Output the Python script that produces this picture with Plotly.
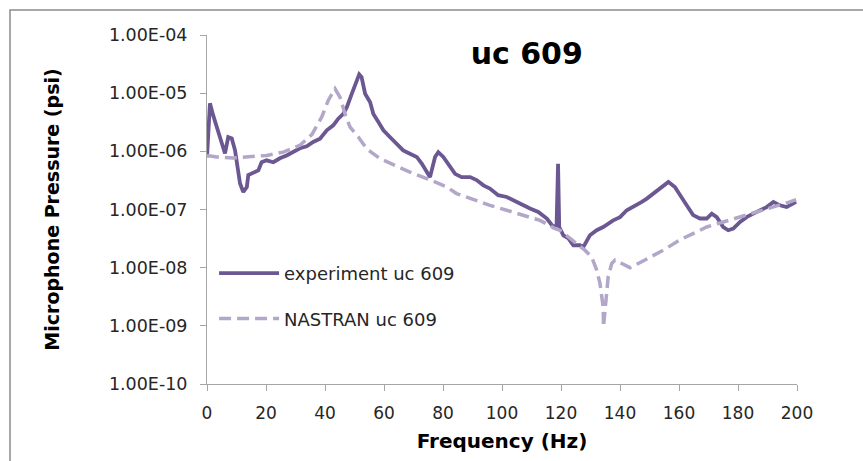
import plotly.graph_objects as go

# Measured microphone response, uc 609
exp_freq = [0.0, 1.0, 2.1, 3.8, 5.5, 6.1, 7.2, 8.4, 9.5, 10.6, 11.2, 12.3, 13.5, 14.0,
            15.7, 17.4, 18.5, 20.2, 22.5, 24.7, 27.0, 29.3, 31.5, 33.8, 36.0, 38.3,
            40.6, 42.8, 44.5, 46.2, 47.4, 49.1, 50.7, 51.6, 52.4, 53.6, 55.3, 56.4,
            58.1, 59.8, 62.0, 64.3, 66.5, 68.8, 71.1, 72.8, 74.5, 75.6, 77.3, 78.4,
            80.1, 81.8, 82.4, 84.1, 86.3, 89.2, 91.4, 93.7, 95.9, 98.7, 101.6, 103.8,
            106.7, 109.5, 112.3, 115.2, 117.4, 118.5, 119.0, 119.4, 120.8, 122.5,
            124.2, 126.4, 127.6, 129.8, 132.1, 134.3, 137.7, 140.0, 142.3, 144.5,
            147.4, 149.1, 151.3, 154.1, 156.4, 158.6, 160.3, 162.6, 164.8, 167.1,
            169.4, 171.1, 172.8, 175.0, 176.7, 178.4, 180.7, 182.9, 185.2, 187.5,
            189.7, 192.0, 194.2, 196.5, 198.7, 199.7]
exp_psi = [7.9e-7, 6.7e-6, 4.15e-6, 2.3e-6, 1.19e-6, 9.2e-7, 1.76e-6, 1.67e-6, 1.04e-6,
           4.7e-7, 2.8e-7, 2.0e-7, 2.44e-7, 3.9e-7, 4.2e-7, 4.7e-7, 6.5e-7, 7.0e-7,
           6.5e-7, 7.6e-7, 8.5e-7, 9.7e-7, 1.13e-6, 1.22e-6, 1.45e-6, 1.65e-6, 2.3e-6,
           2.8e-6, 3.64e-6, 4.4e-6, 5.75e-6, 9.8e-6, 1.66e-5, 2.1e-5, 1.89e-5, 9.8e-6,
           7.0e-6, 4.4e-6, 3.2e-6, 2.3e-6, 1.76e-6, 1.36e-6, 1.04e-6, 9.1e-7, 8.0e-7,
           6.15e-7, 4.4e-7, 3.6e-7, 8.0e-7, 9.7e-7, 8.0e-7, 6.15e-7, 5.4e-7, 4.1e-7,
           3.6e-7, 3.6e-7, 3.2e-7, 2.6e-7, 2.29e-7, 1.76e-7, 1.64e-7, 1.44e-7, 1.26e-7,
           1.04e-7, 9.1e-8, 7.0e-8, 5.0e-8, 5.4e-8, 6.1e-7, 5.0e-8, 3.6e-8, 3.2e-8,
           2.43e-8, 2.43e-8, 2.28e-8, 3.6e-8, 4.4e-8, 5.0e-8, 6.5e-8, 7.4e-8, 9.7e-8,
           1.1e-7, 1.35e-7, 1.54e-7, 1.88e-7, 2.44e-7, 2.97e-7, 2.44e-7, 1.76e-7,
           1.18e-7, 8.0e-8, 7.0e-8, 7.0e-8, 8.5e-8, 7.4e-8, 5.0e-8, 4.4e-8, 4.7e-8,
           6.1e-8, 7.4e-8, 8.5e-8, 9.7e-8, 1.1e-7, 1.35e-7, 1.18e-7, 1.1e-7, 1.26e-7,
           1.35e-7]

# NASTRAN prediction, uc 609
nas_freq = [0.0, 3.3, 8.9, 14.6, 20.2, 25.9, 31.5, 35.6, 38.9, 41.1, 43.4, 45.1, 46.8,
            48.5, 51.3, 54.1, 58.6, 63.7, 68.8, 74.5, 81.3, 84.6, 90.3, 95.9, 101.6,
            107.2, 112.9, 118.0, 119.7, 123.7, 128.1, 130.4, 132.1, 133.2, 133.8,
            134.3, 134.4, 134.9, 135.5, 136.0, 137.2, 138.3, 140.6, 143.4, 146.2,
            150.2, 154.7, 160.3, 166.0, 169.4, 175.0, 180.7, 186.3, 192.0, 197.6, 199.7]
nas_psi = [8.5e-7, 8.0e-7, 7.7e-7, 8.0e-7, 8.5e-7, 9.7e-7, 1.27e-6, 1.96e-6, 3.9e-6,
           7.5e-6, 1.19e-5, 8.5e-6, 4.4e-6, 2.6e-6, 1.76e-6, 1.11e-6, 7.5e-7, 5.75e-7,
           4.4e-7, 3.4e-7, 2.44e-7, 1.88e-7, 1.48e-7, 1.18e-7, 9.7e-8, 8.0e-8, 6.5e-8,
           4.7e-8, 4.4e-8, 3.0e-8, 2.0e-8, 1.53e-8, 9.1e-9, 5.4e-9, 3.6e-9, 2.1e-9,
           9.6e-10, 1.86e-9, 4.1e-9, 7.0e-9, 1.18e-8, 1.35e-8, 1.18e-8, 1.0e-8,
           1.18e-8, 1.53e-8, 2.0e-8, 3.0e-8, 4.1e-8, 5.0e-8, 6.1e-8, 7.4e-8, 9.1e-8,
           1.1e-7, 1.35e-7, 1.48e-7]

y_tickvals = [1e-10, 1e-9, 1e-8, 1e-7, 1e-6, 1e-5, 1e-4]
y_ticktext = ["1.00E-10", "1.00E-09", "1.00E-08", "1.00E-07",
              "1.00E-06", "1.00E-05", "1.00E-04"]
x_tickvals = list(range(0, 201, 20))

FONT = "DejaVu Sans"
AXIS_GREY = "#a6a6a6"

fig = go.Figure()
fig.add_trace(go.Scatter(
    x=exp_freq, y=exp_psi, mode="lines", name="experiment uc 609",
    legendgroup="exp",
    line=dict(color="#6b5792", width=3.8),
))
fig.add_trace(go.Scatter(
    x=nas_freq, y=nas_psi, mode="lines", name="NASTRAN uc 609",
    legendgroup="nas",
    line=dict(color="#b2a6c9", width=3.5, dash="12px,6px"),
))

fig.update_layout(
    width=863, height=461,
    margin=dict(l=207, r=66, t=35, b=77),
    paper_bgcolor="white", plot_bgcolor="white",
    font=dict(family=FONT, color="#262626"),
    title=dict(text="<b>uc 609</b>", x=0.542, xref="paper", xanchor="center",
               y=1 - 53 / 461, yanchor="middle",
               font=dict(family=FONT, size=30, color="black")),
    showlegend=True,
    legend=dict(x=0.012, y=0.37, xanchor="left", yanchor="top",
                bgcolor="rgba(0,0,0,0)", font=dict(family=FONT, size=18, color="#262626"),
                itemwidth=60, tracegroupgap=19),
    shapes=[dict(type="rect", xref="paper", yref="paper",
                 x0=(10 - 207) / 590, x1=2.0, y0=-2.0, y1=(384 - 10) / 349,
                 line=dict(color="#8c8c8c", width=1.5), layer="below")],
)

fig.update_xaxes(
    range=[0, 200], tickvals=x_tickvals, showgrid=False, zeroline=False,
    showline=True, linecolor=AXIS_GREY, linewidth=1,
    ticks="outside", ticklen=6, tickcolor=AXIS_GREY, ticklabelstandoff=8,
    tickfont=dict(family=FONT, size=17, color="#262626"),
    title=dict(text="<b>Frequency (Hz)</b>", standoff=11,
               font=dict(family=FONT, size=20, color="black")),
)
fig.update_yaxes(
    type="log", range=[-10, -4], tickvals=y_tickvals, ticktext=y_ticktext,
    showgrid=False, zeroline=False,
    showline=True, linecolor=AXIS_GREY, linewidth=1,
    ticks="outside", ticklen=6, tickcolor=AXIS_GREY, ticklabelstandoff=9,
    tickfont=dict(family=FONT, size=17.5, color="#262626"),
    title=dict(text="<b>Microphone Pressure (psi)</b>", standoff=44,
               font=dict(family=FONT, size=19, color="black")),
)

fig.write_html("out.html")
